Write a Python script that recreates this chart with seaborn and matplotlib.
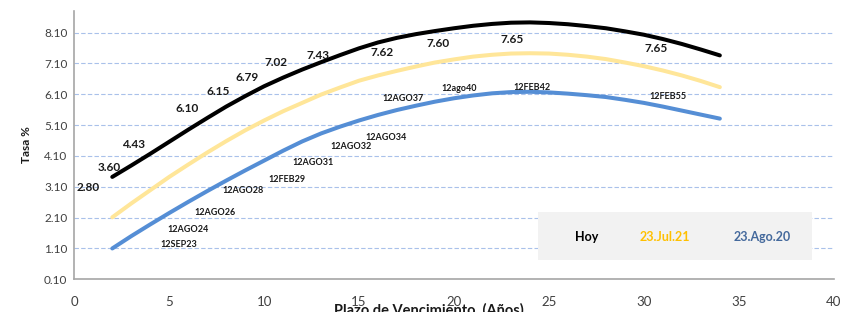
import matplotlib
matplotlib.use("Agg")
import matplotlib.pyplot as plt
from matplotlib.patches import Rectangle
import seaborn as sns
import pandas as pd

# plazo (años) y tasas
plazo = list(range(2, 35))
hoy = [3.42, 3.79, 4.17, 4.56, 4.95, 5.33, 5.70, 6.04, 6.36, 6.64, 6.90, 7.14, 7.37, 7.59, 7.78, 7.93,
       8.05, 8.15, 8.24, 8.32, 8.38, 8.42, 8.43, 8.41, 8.37, 8.31, 8.24, 8.14, 8.03, 7.89, 7.73, 7.55, 7.36]
jul21 = [2.11, 2.56, 2.99, 3.42, 3.82, 4.21, 4.58, 4.93, 5.25, 5.55, 5.82, 6.09, 6.32, 6.54, 6.71, 6.86,
         7.00, 7.13, 7.23, 7.32, 7.38, 7.42, 7.43, 7.42, 7.38, 7.32, 7.24, 7.13, 7.01, 6.87, 6.71, 6.53, 6.33]
ago20 = [1.10, 1.50, 1.88, 2.25, 2.61, 2.96, 3.30, 3.63, 3.95, 4.27, 4.57, 4.83, 5.05, 5.25, 5.43, 5.59,
         5.73, 5.86, 5.97, 6.06, 6.13, 6.17, 6.18, 6.16, 6.12, 6.07, 6.01, 5.92, 5.82, 5.70, 5.57, 5.44, 5.31]

series_names = ["Hoy", "23.Jul.21", "23.Ago.20"]
line_colors = ["#000000", "#ffe699", "#558ed5"]
text_colors = ["#000000", "#ffc000", "#44699c"]

# etiquetas de tasas (curva de hoy)
tasa_labels = ["2.80", "3.60", "4.43", "6.10", "6.15", "6.79", "7.02", "7.43", "7.62", "7.60", "7.65", "7.65"]
tasa_x = [0.72, 1.83, 3.14, 5.96, 7.58, 9.08, 10.62, 12.82, 16.22, 19.17, 23.06, 30.62]
tasa_y = [3.09, 3.74, 4.47, 5.64, 6.18, 6.65, 7.12, 7.36, 7.45, 7.74, 7.87, 7.59]

# etiquetas de bonos
bonos = ["12SEP23", "12AGO24", "12AGO26", "12AGO28", "12FEB29", "12AGO31", "12AGO32",
         "12AGO34", "12AGO37", "12ago40", "12FEB42", "12FEB55"]
bono_x = [5.51, 6.00, 7.41, 8.90, 11.20, 12.55, 14.55, 16.41, 17.29, 20.27, 24.12, 31.28]
bono_y = [1.23, 1.70, 2.27, 2.97, 3.32, 3.88, 4.40, 4.69, 5.96, 6.29, 6.32, 6.04]

yticks = [0.10, 1.10, 2.10, 3.10, 4.10, 5.10, 6.10, 7.10, 8.10]
xticks = [0, 5, 10, 15, 20, 25, 30, 35, 40]

df = pd.DataFrame({
    "plazo": plazo * 3,
    "tasa": hoy + jul21 + ago20,
    "serie": [series_names[0]] * len(plazo) + [series_names[1]] * len(plazo) + [series_names[2]] * len(plazo),
})

sns.set_style("white")
plt.rcParams['font.family'] = ['Lato', 'DejaVu Sans']

fig = plt.figure(figsize=(8.64, 3.12), dpi=100)
ax = fig.add_axes([0.086, 0.1048, 0.879, 0.860])

for yv in yticks[1:]:
    ax.axhline(yv, color="#a9c1ea", lw=0.8, ls=(0, (4, 2)), zorder=0)

sns.lineplot(data=df, x="plazo", y="tasa", hue="serie", hue_order=series_names[::-1],
             palette=dict(zip(series_names, line_colors)), lw=2.9, legend=False, ax=ax, zorder=3)
for ln in ax.get_lines():
    ln.set_solid_joinstyle("round")

for t, x, y in zip(tasa_labels, tasa_x, tasa_y):
    ax.text(x, y, t, ha="center", va="center", fontsize=8.5, fontweight="bold", color="#1a1a1a", zorder=4)
for t, x, y in zip(bonos, bono_x, bono_y):
    ax.text(x, y, t, ha="center", va="center", fontsize=6.5, fontweight="bold", color="#1a1a1a", zorder=4)

# cuadro de leyenda
ax.add_patch(Rectangle((0.610, 0.072), 0.362, 0.179, transform=ax.transAxes,
                       facecolor="#f2f2f2", edgecolor="none", zorder=2))
for name, col, xp in zip(series_names, text_colors, [0.675, 0.777, 0.906]):
    ax.text(xp, 0.158, name, transform=ax.transAxes, ha="center", va="center",
            fontsize=9, fontweight="bold", color=col, zorder=3)

ax.set_xlim(0, 40)
ax.set_ylim(0.10, 8.8)
ax.set_xticks(xticks)
ax.set_yticks(yticks)
ax.set_yticklabels([f"{v:.2f}" for v in yticks])
ax.tick_params(axis="x", length=0, pad=12, labelsize=9.5, labelcolor="#404040")
ax.tick_params(axis="y", length=0, pad=5, labelsize=8.5, labelcolor="#404040")
ax.set_xlabel("")
ax.set_ylabel("")
for s in ["top", "right"]:
    ax.spines[s].set_visible(False)
for s in ["left", "bottom"]:
    ax.spines[s].set_color("#a6a6a6")
    ax.spines[s].set_linewidth(1.2)

fig.text(27 / 864, 1 - 145 / 312, "Tasa %", rotation=90, ha="center", va="center",
         fontsize=8.5, fontweight="bold", color="#1a1a1a")
fig.text(0.496, 0.030, "Plazo de Vencimiento  (Años)", ha="center", va="top",
         fontsize=10.5, fontweight="bold", color="#1a1a1a")

fig.savefig("out.png", dpi=100)
